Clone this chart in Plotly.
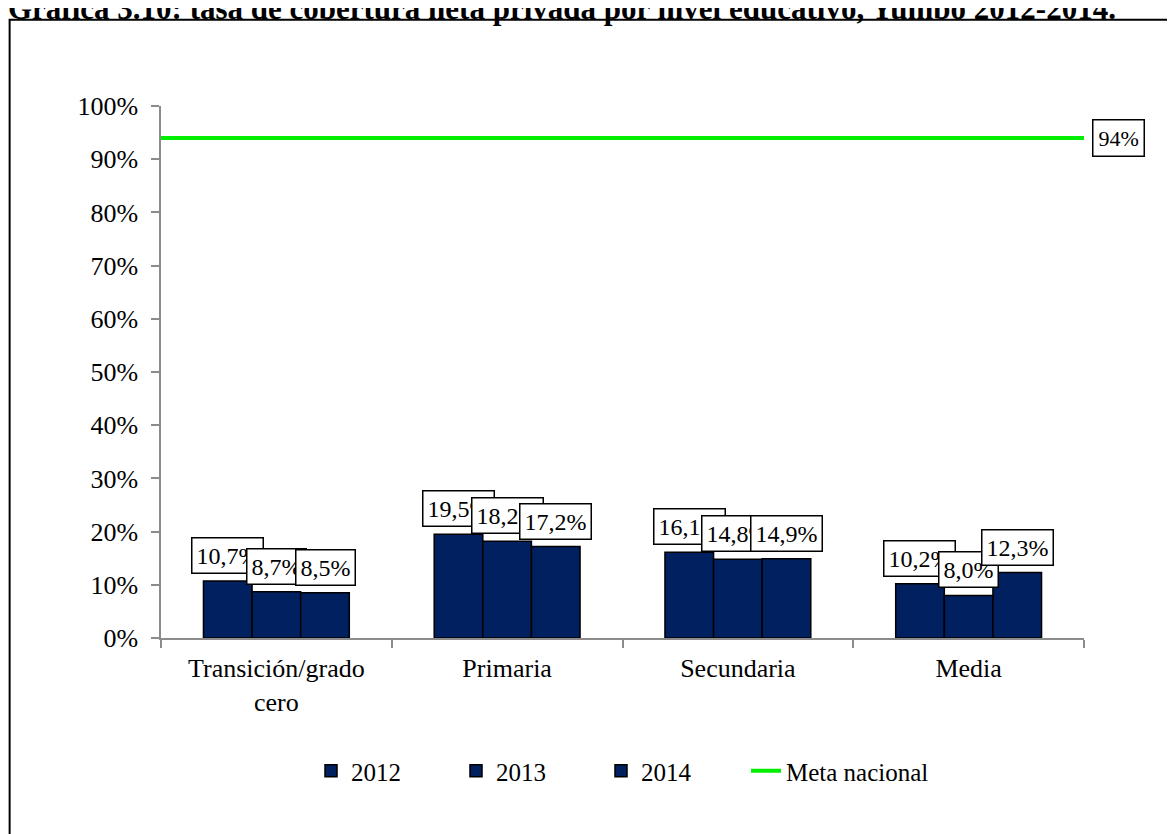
import plotly.graph_objects as go

# Datos (tasa de cobertura neta privada, %)
NIVELES = ["Transición/grado<br>cero", "Primaria", "Secundaria", "Media"]
ANIOS = ["2012", "2013", "2014"]
V2012 = [10.7, 19.5, 16.1, 10.2]
V2013 = [8.7, 18.2, 14.8, 8.0]
V2014 = [8.5, 17.2, 14.9, 12.3]
META = 94

NAVY = "#002060"
GREEN = "#00ee00"
AXIS = "#8c8c8c"
FONT = "Liberation Serif"
PAD = "\u00a0" * 8  # espacio extra entre entradas de la leyenda

series = [V2012, V2013, V2014]
fig = go.Figure()
for anio, vals in zip(ANIOS, series):
    fig.add_trace(go.Bar(
        x=NIVELES, y=[v / 100 for v in vals], name=anio + PAD,
        marker=dict(color=NAVY, line=dict(color="black", width=1.5))))

# línea de meta nacional sobre un eje x auxiliar que cubre todo el ancho
fig.add_trace(go.Scatter(
    x=[0, 1], y=[META / 100, META / 100], xaxis="x2", mode="lines",
    name="Meta nacional", line=dict(color=GREEN, width=4)))

# etiquetas con recuadro sobre cada barra
bar_px = 48.7
for i, vals in enumerate(series):
    for nivel, v in zip(NIVELES, vals):
        fig.add_annotation(
            x=nivel, y=v / 100, xref="x", yref="y", text=f"{v:.1f}%".replace(".", ","),
            showarrow=False, yanchor="bottom", yshift=7, xshift=(i - 1) * bar_px,
            font=dict(size=24, color="black", family=FONT),
            bgcolor="white", bordercolor="black", borderwidth=1.5, borderpad=4)

fig.add_annotation(
    x=1, y=META / 100, xref="x2", yref="y", text=f"{META}%", showarrow=False,
    xanchor="left", xshift=8, font=dict(size=22, color="black", family=FONT),
    bgcolor="white", bordercolor="black", borderwidth=1.5, borderpad=5)

# marco exterior del gráfico
fig.add_shape(type="rect", xref="paper", yref="paper",
              x0=-0.164, x1=1.2, y0=-0.4, y1=1.162,
              line=dict(color="black", width=2), layer="below")

fig.update_layout(
    width=1167, height=826,
    paper_bgcolor="white", plot_bgcolor="white",
    font=dict(family=FONT, size=26, color="black"),
    margin=dict(l=153, r=91, t=98, b=196),
    barmode="group", bargap=0.368, bargroupgap=0,
    title=dict(text="<b>Gráfica 3.10: tasa de cobertura neta privada por nivel educativo, Yumbo 2012-2014.</b>",
               x=0.0, xanchor="left", xref="container", y=1.0, yanchor="middle",
               yref="container", font=dict(size=31, family=FONT, color="black")),
    legend=dict(orientation="h", x=0.5, xanchor="center", y=-0.25, yanchor="middle",
                font=dict(size=25), traceorder="normal"),
    xaxis=dict(showline=True, linecolor=AXIS, linewidth=1.5, ticks="outside",
               tickson="boundaries", ticklen=8, tickcolor=AXIS, tickwidth=1.5,
               showgrid=False, tickfont=dict(size=26), ticklabelstandoff=6),
    xaxis2=dict(overlaying="x", range=[0, 1], visible=False),
    yaxis=dict(range=[0, 1], dtick=0.1, tickformat=".0%", showline=True,
               linecolor=AXIS, linewidth=1.5, ticks="outside", ticklen=8,
               tickcolor=AXIS, tickwidth=1.5, showgrid=False, zeroline=False,
               tickfont=dict(size=26), ticklabelstandoff=8),
    separators=",.",
)

fig.write_html("out.html")
